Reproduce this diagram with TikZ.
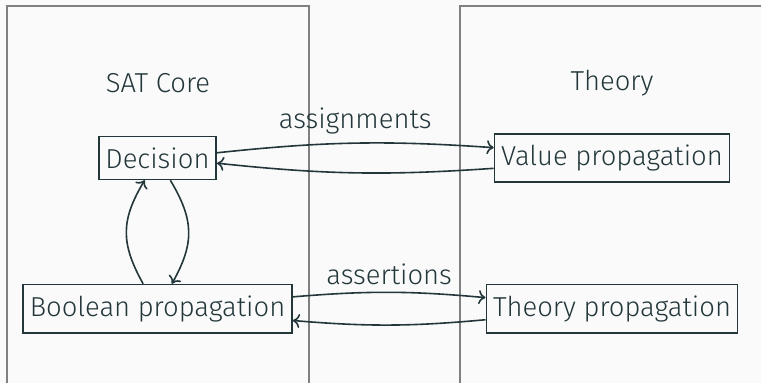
\documentclass[tikz,border=0pt]{standalone}
\usepackage{fontspec}
\setmainfont{Fira Sans Light}
\usetikzlibrary{arrows.meta}
\definecolor{mDark}{HTML}{23373B}
\definecolor{mBg}{HTML}{FAFAFA}

\begin{document}
\begin{tikzpicture}[x=0.5pt,y=0.5pt,font=\fontsize{13.7}{17}\selectfont,text=mDark,
  part/.style={draw=gray,line width=1pt},
  block/.style={draw=mDark,line width=0.8pt,inner ysep=5.5pt},
  flow/.style={-{To[length=3.5pt,width=7pt]},draw=mDark,line width=0.8pt}]
\fill[mBg] (0,0) rectangle (761,383);
\clip (0,0) rectangle (761,383);
\draw[part] (7,-10) rectangle (309,377);\draw[part] (460,-10) rectangle (790,377);
\node (sat) at (158,300) {SAT Core};\node (th) at (612,300) {Theory};
\node[block] (dec) at (157.5,225) {Decision};
\node[block] (val) at (612,225) {Value propagation};
\node[block] (bool) at (157.5,74.3) {Boolean propagation};
\node[block] (tprop) at (612,74.3) {Theory propagation};
\draw[flow] (dec) to[bend left=5] node[above,yshift=1pt] {assignments} (val);
\draw[flow] (val) to[bend left=5] (dec);
\draw[flow] (bool) to[bend left=5] node[above] {assertions} (tprop);
\draw[flow] (tprop) to[bend left=5] (bool);
\draw[flow] (bool) to[bend left=30,looseness=1.15] (dec);
\draw[flow] (dec) to[bend left=30,looseness=1.15] (bool);
\end{tikzpicture}
\end{document}
